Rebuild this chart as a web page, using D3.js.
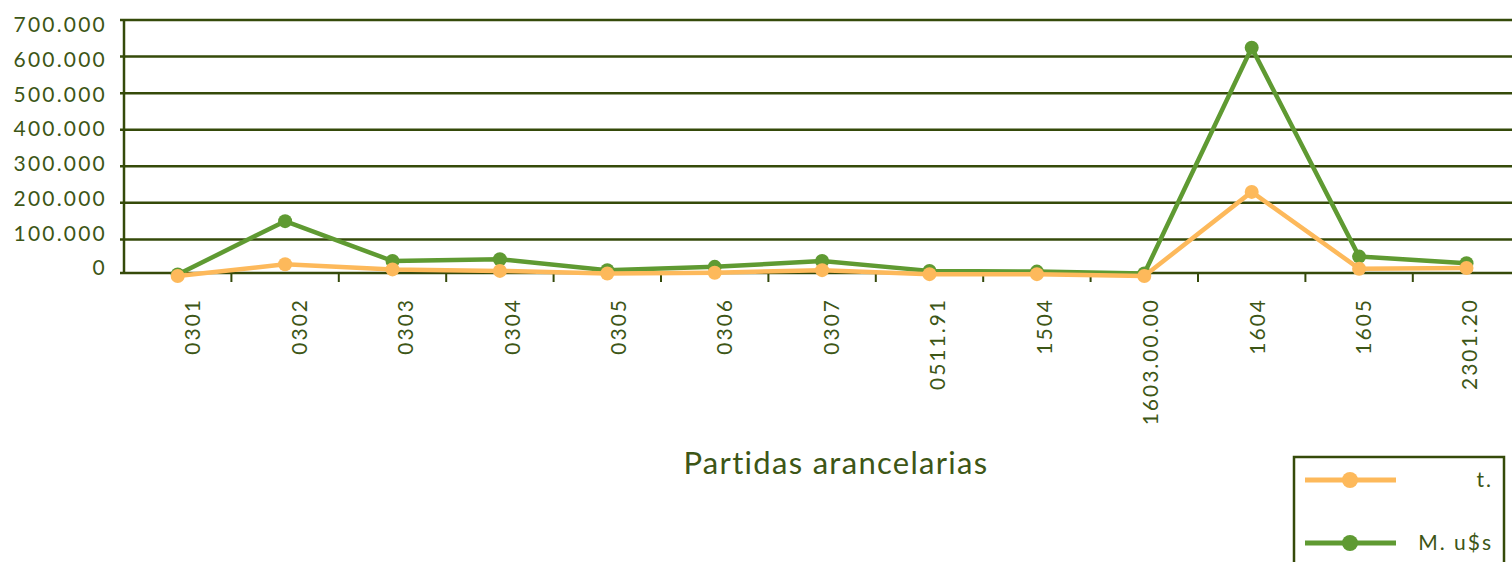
<!DOCTYPE html>
<html>
<head>
<meta charset="utf-8">
<script src="https://cdn.jsdelivr.net/npm/d3@7"></script>
<style>
  body { margin: 0; background: #fff; }
  svg { display: block; font-family: Lato, "Open Sans", sans-serif; }
</style>
</head>
<body>
<svg id="chart"></svg>
<script>
// 1. Data
const categories = ["0301", "0302", "0303", "0304", "0305", "0306", "0307",
  "0511.91", "1504", "1603.00.00", "1604", "1605", "2301.20"];
const tons = [0, 32000, 18000, 14000, 7000, 9000, 16000, 5000, 5000, 0, 230000, 20000, 22000];
const usd = [4000, 150000, 41000, 46000, 16000, 25000, 41000, 14000, 12000, 7000, 624000, 53000, 35000];
const yTicks = [0, 100000, 200000, 300000, 400000, 500000, 600000, 700000];
const seriesNames = ["t.", "M. u$s"];

// 2. Setup
const W = 1512, H = 562;
const svg = d3.select("#chart").attr("width", W).attr("height", H);

const axisColor = "#354a0a";
const textColor = "#3d5616";
const colors = ["#fdb95b", "#5f9a32"];

const plotLeft = 124, plotTop = 20, plotBottom = 273;
const bandW = 107.4;

const x = d3.scaleBand()
  .domain(categories)
  .range([plotLeft, plotLeft + bandW * categories.length]);
const labelX = d3.scalePoint().domain(categories).range([193, 1470]);
const y = d3.scaleLinear().domain([0, 700000]).range([276, plotTop]);
// tick labels sit on their own evenly spaced rows
const labelY = d3.scaleLinear().domain([0, 700000]).range([268, 25]);

const fmt = (d) => d3.format(",")(d).replace(/,/g, ".");

// 2.1 Gridlines + y labels
svg.append("g")
  .selectAll("line")
  .data(yTicks.filter((d) => d > 0))
  .enter()
  .append("line")
  .attr("x1", plotLeft - 4)
  .attr("x2", W)
  .attr("y1", (d) => y(d))
  .attr("y2", (d) => y(d))
  .attr("stroke", axisColor)
  .attr("stroke-width", 2.5);

svg.append("g")
  .selectAll("text")
  .data(yTicks)
  .enter()
  .append("text")
  .attr("x", 107)
  .attr("y", (d) => labelY(d))
  .attr("dy", "0.35em")
  .attr("text-anchor", "end")
  .attr("fill", textColor)
  .attr("font-size", "21px")
  .attr("letter-spacing", "2.2px")
  .text((d) => fmt(d));

// 2.2 Axis lines
svg.append("line")
  .attr("x1", plotLeft).attr("x2", plotLeft)
  .attr("y1", plotTop).attr("y2", plotBottom + 1)
  .attr("stroke", axisColor).attr("stroke-width", 2.5);
svg.append("line")
  .attr("x1", plotLeft - 4).attr("x2", W)
  .attr("y1", plotBottom).attr("y2", plotBottom)
  .attr("stroke", axisColor).attr("stroke-width", 2.5);

// x ticks at band boundaries
svg.append("g")
  .selectAll("line")
  .data(categories.slice(1))
  .enter()
  .append("line")
  .attr("x1", (d) => x(d))
  .attr("x2", (d) => x(d))
  .attr("y1", plotBottom)
  .attr("y2", plotBottom + 9)
  .attr("stroke", axisColor)
  .attr("stroke-width", 2);

// x labels
svg.append("g")
  .selectAll("text")
  .data(categories)
  .enter()
  .append("text")
  .attr("transform", (d) => `translate(${labelX(d)},298) rotate(-90)`)
  .attr("dy", "0.35em")
  .attr("text-anchor", "end")
  .attr("fill", textColor)
  .attr("font-size", "21px")
  .attr("letter-spacing", "2px")
  .text((d) => d);

// axis title
svg.append("text")
  .attr("x", 836)
  .attr("y", 474)
  .attr("text-anchor", "middle")
  .attr("fill", textColor)
  .attr("font-size", "31px")
  .attr("letter-spacing", "1.3px")
  .text("Partidas arancelarias");

// 3. Lines
const cx = (i) => x(categories[i]) + x.bandwidth() / 2;
const line = d3.line()
  .x((d, i) => cx(i))
  .y((d) => y(d));

[usd, tons].forEach((vals) => {
  const c = vals === usd ? colors[1] : colors[0];
  svg.append("path")
    .datum(vals)
    .attr("fill", "none")
    .attr("stroke", c)
    .attr("stroke-width", 4.5)
    .attr("stroke-linejoin", "round")
    .attr("d", line);
  svg.append("g")
    .selectAll("circle")
    .data(vals)
    .enter()
    .append("circle")
    .attr("cx", (d, i) => cx(i))
    .attr("cy", (d) => y(d))
    .attr("r", 7)
    .attr("fill", c);
});

// 4. Legend
const legend = svg.append("g").attr("transform", "translate(1294,457)");
legend.append("rect")
  .attr("width", 210)
  .attr("height", 130)
  .attr("fill", "#fff")
  .attr("stroke", axisColor)
  .attr("stroke-width", 2.5);

const legY = d3.scalePoint().domain(seriesNames).range([23, 86]);
seriesNames.forEach((name, i) => {
  const g = legend.append("g").attr("transform", `translate(0,${legY(name)})`);
  g.append("line")
    .attr("x1", 11).attr("x2", 102)
    .attr("stroke", colors[i]).attr("stroke-width", 5);
  g.append("circle").attr("cx", 56).attr("r", 8).attr("fill", colors[i]);
  g.append("text")
    .attr("x", 199)
    .attr("dy", "0.35em")
    .attr("text-anchor", "end")
    .attr("fill", textColor)
    .attr("font-size", "21px")
    .attr("letter-spacing", "2px")
    .text(name);
});
</script>
</body>
</html>
